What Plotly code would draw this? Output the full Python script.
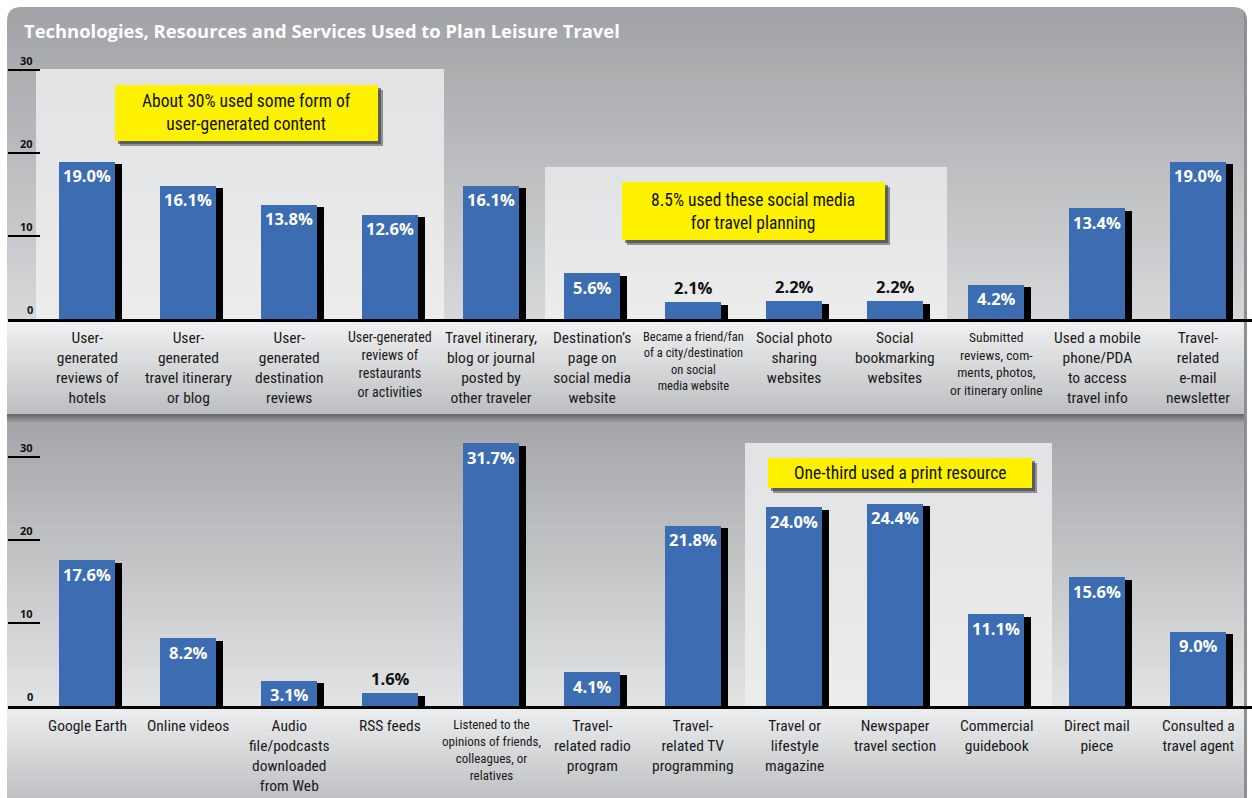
import plotly.graph_objects as go

W, H = 1252, 798

# ---------------- data ----------------
title_text = "Technologies, Resources and Services Used to Plan Leisure Travel"

top_labels = [
    "User-<br>generated<br>reviews of<br>hotels",
    "User-<br>generated<br>travel itinerary<br>or blog",
    "User-<br>generated<br>destination<br>reviews",
    "User-generated<br>reviews of<br>restaurants<br>or activities",
    "Travel itinerary,<br>blog or journal<br>posted by<br>other traveler",
    "Destination’s<br>page on<br>social media<br>website",
    "Became a friend/fan<br>of a city/destination<br>on social<br>media website",
    "Social photo<br>sharing<br>websites",
    "Social<br>bookmarking<br>websites",
    "Submitted<br>reviews, com-<br>ments, photos,<br>or itinerary online",
    "Used a mobile<br>phone/PDA<br>to access<br>travel info",
    "Travel-<br>related<br>e-mail<br>newsletter",
]
top_values = [19.0, 16.1, 13.8, 12.6, 16.1, 5.6, 2.1, 2.2, 2.2, 4.2, 13.4, 19.0]

bottom_labels = [
    "Google Earth",
    "Online videos",
    "Audio<br>file/podcasts<br>downloaded<br>from Web",
    "RSS feeds",
    "Listened to the<br>opinions of friends,<br>colleagues, or<br>relatives",
    "Travel-<br>related radio<br>program",
    "Travel-<br>related TV<br>programming",
    "Travel or<br>lifestyle<br>magazine",
    "Newspaper<br>travel section",
    "Commercial<br>guidebook",
    "Direct mail<br>piece",
    "Consulted a<br>travel agent",
]
bottom_values = [17.6, 8.2, 3.1, 1.6, 31.7, 4.1, 21.8, 24.0, 24.4, 11.1, 15.6, 9.0]

y_tick_values = [0, 10, 20, 30]

callout_texts = [
    "About 30% used some form of<br>user-generated content",
    "8.5% used these social media<br>for travel planning",
    "One-third used a print resource",
]

# ---------------- style ----------------
BAR = "#3c6db2"
FONT = "Liberation Sans Narrow, Roboto Condensed, DejaVu Sans Condensed, Roboto, sans-serif"
BOLD = "Open Sans, Roboto, sans-serif"
LABEL_SIZE = 15.5
condensed_top = {3: 14, 6: 12.5, 9: 13.5}
condensed_bottom = {4: 13}


def px(x):
    return x / W


def py(y):
    return 1 - y / H


def hexrgb(c):
    c = c.lstrip("#")
    return tuple(int(c[i:i + 2], 16) for i in (0, 2, 4))


def mix(c1, c2, t):
    a, b = hexrgb(c1), hexrgb(c2)
    return "rgb(%d,%d,%d)" % tuple(round(a[i] + (b[i] - a[i]) * t) for i in range(3))


shapes = []


def grad(x0, y0, x1, y1, ctop, cbot, n=40):
    step = (y1 - y0) / n
    for k in range(n):
        shapes.append(dict(type="rect", xref="paper", yref="paper",
                           x0=px(x0), x1=px(x1), y0=py(y0 + k * step), y1=py(y0 + (k + 1) * step + 0.6),
                           fillcolor=mix(ctop, cbot, k / (n - 1)), line_width=0, layer="below"))


def rect(x0, y0, x1, y1, color):
    shapes.append(dict(type="rect", xref="paper", yref="paper",
                       x0=px(x0), x1=px(x1), y0=py(y0), y1=py(y1),
                       fillcolor=color, line_width=0, layer="below"))


# backgrounds
grad(7, 7, 1247, 321, "#a1a3a6", "#d6d7d9", 50)
grad(7, 321, 1247, 414, "#f0f0f1", "#bdbfc2", 30)
grad(7, 414, 1247, 424, "#67696c", "#a4a6a9", 6)
grad(7, 424, 1247, 708, "#a5a7aa", "#e2e3e4", 50)
grad(7, 708, 1247, 798, "#ecedee", "#bfc1c4", 30)
rect(1244, 7, 1247, 798, "#8d8f92")

# rounded top corners
for (cx, sx) in [(7, 1), (1247, -1)]:
    r = 14
    path = "M %f,%f L %f,%f Q %f,%f %f,%f Z" % (
        px(cx), py(7), px(cx + sx * r), py(7), px(cx), py(7), px(cx), py(7 + r))
    shapes.append(dict(type="path", xref="paper", yref="paper", path=path,
                       fillcolor="white", line_width=0, layer="below"))

# highlight panels
grad(36, 69, 444, 319, "#e2e3e5", "#ececed", 10)
grad(545, 167, 947, 319, "#e2e3e5", "#ececed", 10)
grad(745, 443, 1052, 706, "#e2e3e5", "#ececed", 10)

# callout boxes (shadow + yellow)
boxes = [(115, 85, 378, 141), (622, 182, 885, 240), (768, 458, 1032, 488)]
for (x0, y0, x1, y1) in boxes:
    rect(x0 + 5, y0 + 5, x1 + 5, y1 + 5, "rgba(70,70,70,0.55)")
    rect(x0 + 3, y0 + 3, x1 + 3, y1 + 3, "rgba(60,60,60,0.6)")
    rect(x0, y0, x1, y1, "#fff200")

# ---------------- traces ----------------
fig = go.Figure()
panels = [(top_values, "x", "y"), (bottom_values, "x2", "y2")]
for vals, xa, ya in panels:
    pos = list(range(len(vals)))
    fig.add_bar(x=pos, y=[v - 0.3 for v in vals], width=0.55, offset=-0.275 + 0.07,
                marker=dict(color="black", line_width=0), xaxis=xa, yaxis=ya, hoverinfo="skip")
    fig.add_bar(x=pos, y=vals, width=0.55, offset=-0.275,
                marker=dict(color=BAR, line_width=0), xaxis=xa, yaxis=ya)

annotations = []
# value labels
for vals, xa, ya in panels:
    for i, v in enumerate(vals):
        inside = v >= 3
        annotations.append(dict(
            x=i, y=v, xref=xa, yref=ya, text="%.1f%%" % v, showarrow=False,
            xanchor="center", yanchor="top" if inside else "bottom",
            yshift=-1 if inside else 1,
            font=dict(family=BOLD, size=16.5, weight="bold", color="white" if inside else "#111")))

# y tick labels (sitting on top of the tick lines)
for ya in ("y", "y2"):
    for t in y_tick_values:
        annotations.append(dict(
            x=px(35), y=t, xref="paper", yref=ya, text=str(t), showarrow=False,
            xanchor="right", yanchor="bottom", yshift=0,
            font=dict(family=BOLD, size=11, weight="bold", color="#111")))

# category labels
for labels, xa, ytop, cond in [(top_labels, "x", 327, condensed_top), (bottom_labels, "x2", 715, condensed_bottom)]:
    for i, lab in enumerate(labels):
        annotations.append(dict(
            x=i, y=py(ytop), xref=xa, yref="paper", text=lab, showarrow=False,
            xanchor="center", yanchor="top", align="center",
            font=dict(family=FONT, size=cond.get(i, LABEL_SIZE), color="#1a1a1a")))

# title
annotations.append(dict(x=px(22), y=py(30), xref="paper", yref="paper", text=title_text,
                        showarrow=False, xanchor="left", yanchor="middle",
                        font=dict(family=BOLD, size=18.4, weight="bold", color="white")))

# callout texts
centers = [((115 + 378) / 2, (85 + 141) / 2), ((622 + 885) / 2, (182 + 240) / 2), ((768 + 1032) / 2, (458 + 488) / 2)]
for txt, (cx, cy) in zip(callout_texts, centers):
    annotations.append(dict(x=px(cx), y=py(cy), xref="paper", yref="paper", text=txt,
                            showarrow=False, xanchor="center", yanchor="middle", align="center",
                            font=dict(family=FONT, size=17.5, color="#111")))

# ---------------- axes ----------------
UNIT = 8.3
xr = [(8 - 87) / 101, (1252 - 87) / 101]
xdom = [px(8), 1]
ytop0, ybot0 = 319, 706
ymax = 35

xa_common = dict(range=xr, domain=xdom, showgrid=False, zeroline=False, showticklabels=False,
                 ticks="", showline=True, linecolor="black", linewidth=3, fixedrange=True)
ya_common = dict(range=[0, ymax], showgrid=False, zeroline=False, tickvals=y_tick_values,
                 ticks="inside", ticklen=32, tickwidth=2, tickcolor="black",
                 showticklabels=False, showline=False, fixedrange=True)

fig.update_layout(
    width=W, height=H, autosize=False,
    margin=dict(l=0, r=0, t=0, b=0),
    paper_bgcolor="white", plot_bgcolor="rgba(0,0,0,0)",
    barmode="overlay", showlegend=False, bargap=0,
    xaxis=dict(**xa_common, anchor="y"),
    xaxis2=dict(**xa_common, anchor="y2"),
    yaxis=dict(**ya_common, anchor="x", domain=[py(ytop0), py(ytop0 - ymax * UNIT)]),
    yaxis2=dict(**ya_common, anchor="x2", domain=[py(ybot0), py(ybot0 - ymax * UNIT)]),
    shapes=shapes, annotations=annotations,
)

fig.write_html("out.html")
